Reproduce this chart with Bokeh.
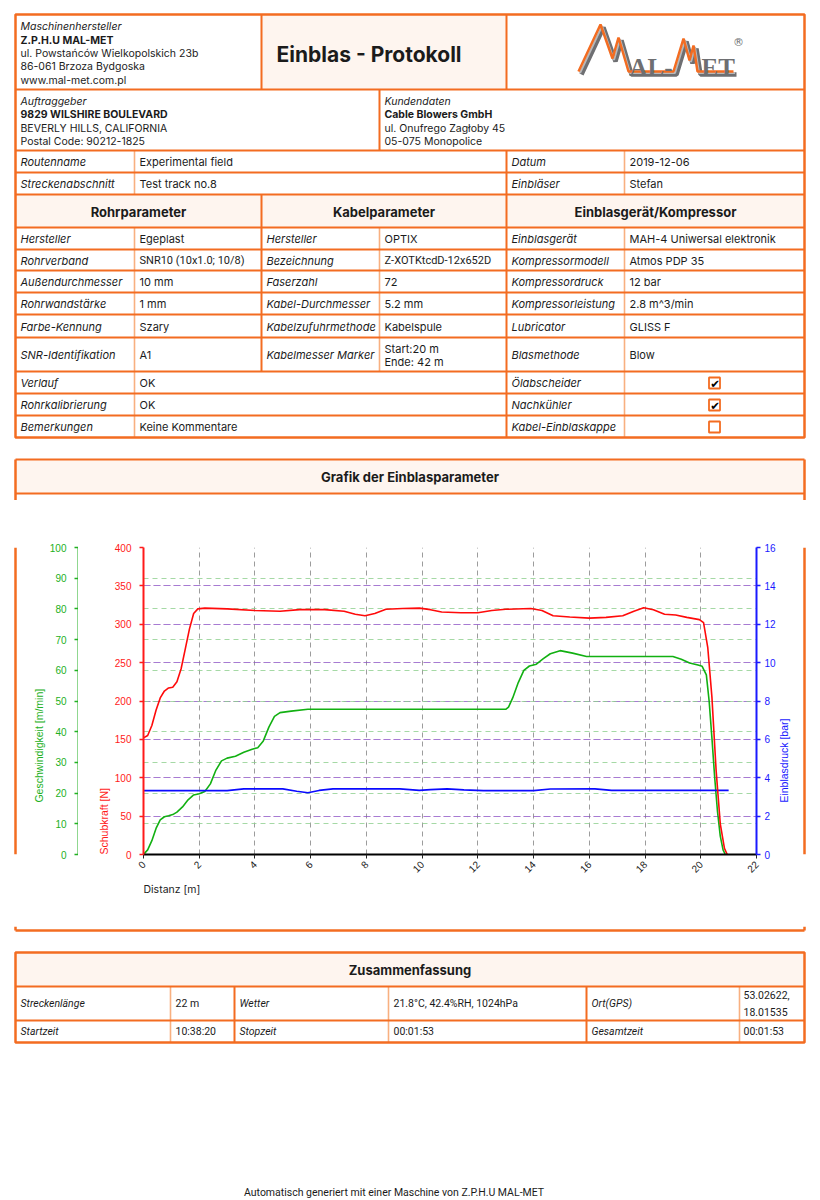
import math
from bokeh.plotting import figure
from bokeh.models import Range1d, LinearAxis, SingleIntervalTicker, Grid, Label, Title
from bokeh.layouts import column, row
from bokeh.embed import file_html
from bokeh.resources import INLINE
from bokeh.core.properties import value

# ---------------- data ----------------
maker_lines = ["Maschinenhersteller", "Z.P.H.U MAL-MET", "ul. Powstańców Wielkopolskich 23b",
               "86-061 Brzoza Bydgoska", "www.mal-met.com.pl"]
doc_title = "Einblas - Protokoll"
client_lines = ["Auftraggeber", "9829 WILSHIRE BOULEVARD", "BEVERLY HILLS, CALIFORNIA", "Postal Code: 90212-1825"]
customer_lines = ["Kundendaten", "Cable Blowers GmbH", "ul. Onufrego Zagłoby  45", "05-075 Monopolice"]
route_labels = ["Routenname", "Streckenabschnitt"]
route_values = ["Experimental field", "Test track no.8"]
date_labels = ["Datum", "Einbläser"]
date_values = ["2019-12-06", "Stefan"]
section_titles = ["Rohrparameter", "Kabelparameter", "Einblasgerät/Kompressor"]
pipe_labels = ["Hersteller", "Rohrverband", "Außendurchmesser", "Rohrwandstärke", "Farbe-Kennung", "SNR-Identifikation"]
pipe_values = ["Egeplast", "SNR10 (10x1.0; 10/8)", "10 mm", "1 mm", "Szary", "A1"]
cable_labels = ["Hersteller", "Bezeichnung", "Faserzahl", "Kabel-Durchmesser", "Kabelzufuhrmethode", "Kabelmesser Marker"]
cable_values = ["OPTIX", "Z-XOTKtcdD-12x652D", "72", "5.2 mm", "Kabelspule", ["Start:20 m", "Ende: 42 m"]]
blower_labels = ["Einblasgerät", "Kompressormodell", "Kompressordruck", "Kompressorleistung", "Lubricator", "Blasmethode"]
blower_values = ["MAH-4 Uniwersal elektronik", "Atmos PDP 35", "12 bar", "2.8 m^3/min", "GLISS F", "Blow"]
remark_labels = ["Verlauf", "Rohrkalibrierung", "Bemerkungen"]
remark_values = ["OK", "OK", "Keine Kommentare"]
option_labels = ["Ölabscheider", "Nachkühler", "Kabel-Einblaskappe"]
option_checked = [True, True, False]
chart_title = "Grafik der Einblasparameter"
summary_title = "Zusammenfassung"
summary_labels = ["Streckenlänge", "Wetter", "Ort(GPS)", "Startzeit", "Stopzeit", "Gesamtzeit"]
summary_values = ["22 m", "21.8°C, 42.4%RH, 1024hPa", ["53.02622,", "18.01535"], "10:38:20", "00:01:53", "00:01:53"]
footer_text = "Automatisch generiert mit einer Maschine von Z.P.H.U MAL-MET"
axis_titles = ["Geschwindigkeit [m/min]", "Schubkraft [N]", "Einblasdruck [bar]", "Distanz [m]"]

# chart series (distance in m)
force_dist = [0, 0.15, 0.3, 0.45, 0.6, 0.75, 0.9, 1.05, 1.2, 1.35, 1.5, 1.65, 1.8, 1.95, 2.2, 3.0, 4.0, 4.9,
              5.6, 6.5, 7.2, 7.6, 7.95, 8.3, 8.7, 9.3, 9.9, 10.3, 10.7, 11.4, 12.0, 12.5, 13.0, 13.9, 14.3,
              14.7, 15.3, 16.0, 16.6, 17.2, 17.6, 17.95, 18.3, 18.7, 19.1, 19.5, 19.95, 20.1, 20.25, 20.4,
              20.55, 20.7, 20.85, 20.95]
force_n = [152, 155, 168, 188, 204, 213, 217, 218, 225, 242, 268, 294, 314, 320, 321, 320, 318, 317,
           319, 319, 317, 313, 311, 314, 319.5, 320.5, 321, 319, 316, 315, 315, 318, 319.5, 320.5, 318,
           311, 309.5, 308, 309, 311, 317, 321.5, 319, 313, 312, 309, 306, 302, 270, 205,
           110, 40, 8, 0]
speed_dist = [0, 0.15, 0.3, 0.45, 0.6, 0.75, 0.9, 1.05, 1.2, 1.4, 1.6, 1.8, 2.0, 2.2, 2.4, 2.6, 2.8, 3.0,
              3.3, 3.6, 3.9, 4.1, 4.3, 4.5, 4.7, 4.9, 5.3, 5.9, 13.0, 13.1, 13.25, 13.45, 13.65, 13.85,
              14.1, 14.35, 14.6, 14.95, 15.4, 15.9, 19.0, 19.3, 19.6, 19.9, 20.05, 20.2, 20.3, 20.4,
              20.5, 20.6, 20.7, 20.8, 20.88]
speed_mmin = [0, 1.5, 4.5, 8.5, 11.3, 12.3, 12.6, 13, 13.8, 15.5, 17.8, 19.4, 19.8, 20.5, 23, 27.5, 30.5, 31.4,
              32, 33.3, 34.3, 34.8, 37, 41.5, 45, 46.2, 46.7, 47.3, 47.3, 48, 51, 56, 60, 61.4,
              62, 63.8, 65.4, 66.4, 65.6, 64.5, 64.5, 63.6, 62.4, 61.7, 61.3, 58.5, 50, 38,
              25, 14, 6, 1.5, 0]
pressure_dist = [0, 3.0, 3.6, 5.0, 5.5, 5.9, 6.3, 6.8, 9.2, 9.9, 10.3, 10.9, 11.5, 12.2, 14.0, 14.6, 16.2,
                 16.8, 21.0]
pressure_bar = [3.33, 3.33, 3.42, 3.42, 3.3, 3.22, 3.34, 3.42, 3.42, 3.34, 3.38, 3.42, 3.37, 3.33, 3.33,
                3.41, 3.42, 3.34, 3.34]

# ---------------- styles ----------------
ORANGE = "#F36C21"
LIGHT = "#F8B080"
PEACH = "#FEF5EF"
INK = "#1b1b1b"
FONT = "Inter"
ALT = "Roboto"
TICKFONT = "Liberation Sans"
GREEN = "#22b022"
RED = "#ff1a1a"
BLUE = "#1a1aff"


def page_fig(w, h, x0, y0):
    p = figure(width=w, height=h, x_range=Range1d(x0, x0 + w), y_range=Range1d(y0 + h, y0),
               x_axis_type=None, y_axis_type=None, min_border=0, toolbar_location=None,
               output_backend="svg", outline_line_color=None)
    p.background_fill_color = "white"
    p.border_fill_color = "white"
    return p


def txt(p, xs, ys, texts, size="11px", style="normal", align="left", color=INK, font=FONT, baseline="middle"):
    p.text(x=xs, y=ys, text=texts, text_font=value(font), text_font_size=size, text_font_style=style,
           text_align=align, text_baseline=baseline, text_color=color)


def hlines(p, ys, x0s, x1s, color, width):
    p.segment(x0=x0s, y0=ys, x1=x1s, y1=ys, line_color=color, line_width=width)


def vlines(p, xs, y0s, y1s, color, width):
    p.segment(x0=xs, y0=y0s, x1=xs, y1=y1s, line_color=color, line_width=width)


def style_axis(ax, col, standoff):
    ax.axis_line_color = col
    ax.axis_line_width = 2
    ax.major_tick_line_color = col
    ax.major_tick_line_width = 1.5
    ax.major_tick_out = 4
    ax.major_tick_in = 0
    ax.minor_tick_line_color = None
    ax.major_label_text_color = col
    ax.major_label_text_font = TICKFONT
    ax.major_label_text_font_size = "10px"
    ax.major_label_standoff = standoff


# ================= TOP FIGURE (page y 0..500) =================
W = 816
top = page_fig(W, 500, 0, 0)
top.quad(left=[261, 15, 15], right=[506, 804, 804], top=[14, 194, 459], bottom=[89, 227, 493],
         fill_color=PEACH, line_color=None)

vlines(top, [379, 134, 134, 624, 624], [227, 150, 227, 150, 227], [371, 194, 437, 194, 437], LIGHT, 1.6)
row_ys = [89, 150, 172, 194, 227, 249, 270, 292, 314, 337, 371, 393, 415]
hlines(top, row_ys, [15] * len(row_ys), [804] * len(row_ys), ORANGE, 2)
vlines(top, [261, 506, 379, 261, 506], [14, 14, 89, 194, 150], [89, 89, 150, 371, 437], ORANGE, 2)
top.quad(left=[15], right=[804], top=[14], bottom=[437], fill_color=None, line_color=ORANGE, line_width=2.5)
hlines(top, [459, 493], [15, 15], [804, 804], ORANGE, 2.2)
vlines(top, [15, 804], [459, 459], [500, 500], ORANGE, 2.5)

HS = "10.5px"
txt(top, [20], [26], [maker_lines[0]], size=HS, style="italic")
txt(top, [20], [39.5], [maker_lines[1]], size=HS, style="bold")
txt(top, [20, 20, 20], [52.5, 66, 79.5], maker_lines[2:], size=HS)
txt(top, [276], [54], [doc_title], size="21px", style="bold")

txt(top, [20], [100.5], [client_lines[0]], size=HS, style="italic")
txt(top, [20], [114], [client_lines[1]], size=HS, style="bold")
txt(top, [20, 20], [127.5, 141], client_lines[2:], size=HS)
txt(top, [384], [100.5], [customer_lines[0]], size=HS, style="italic")
txt(top, [384], [114], [customer_lines[1]], size=HS, style="bold")
txt(top, [384, 384], [127.5, 141], customer_lines[2:], size=HS)

route_y = [161.5, 183.5]
txt(top, [20, 20], route_y, route_labels, style="italic")
txt(top, [139, 139], route_y, route_values)
txt(top, [511, 511], route_y, date_labels, style="italic")
txt(top, [629, 629], route_y, date_values)

txt(top, [138, 383.5, 655], [211] * 3, section_titles, size="13px", style="bold", align="center")

param_y = [238.5, 260, 281.5, 303.5, 326, 354.5]
txt(top, [20] * 6, param_y, pipe_labels, style="italic")
txt(top, [139], [param_y[0]], [pipe_values[0]])
txt(top, [139], [param_y[1]], [pipe_values[1]], font=ALT)
txt(top, [139] * 4, param_y[2:], pipe_values[2:])
txt(top, [266] * 6, param_y, cable_labels, style="italic")
txt(top, [384], [param_y[0]], [cable_values[0]])
txt(top, [384], [param_y[1]], [cable_values[1]], font=ALT)
txt(top, [384] * 3, param_y[2:5], cable_values[2:5])
txt(top, [384, 384], [348, 361.5], cable_values[5])
txt(top, [511] * 6, param_y, blower_labels, style="italic")
txt(top, [629] * 6, param_y, blower_values)

rem_y = [382.5, 404.5, 426.5]
txt(top, [20] * 3, rem_y, remark_labels, style="italic")
txt(top, [139] * 3, rem_y, remark_values)
txt(top, [511] * 3, rem_y, option_labels, style="italic")
top.rect(x=[714] * 3, y=rem_y, width=11, height=11, fill_color="white", line_color=ORANGE, line_width=1.8)
chk_y = [y for y, c in zip(rem_y, option_checked) if c]
txt(top, [714.5] * len(chk_y), [y + 0.5 for y in chk_y], ["✔"] * len(chk_y), size="11.5px",
    align="center", color="#000000", font="DejaVu Sans")

txt(top, [409.5], [476.5], [chart_title], size="13px", style="bold", align="center")

# logo (MAL-MET)
LOGO_GRAY = "#6E6F72"
m1x = [578, 600, 612, 618, 628, 673, 683, 689, 693, 697, 733]
m1y = [71, 24, 58, 37, 71, 71, 38, 60, 45, 71, 71]
top.line(x=[v + 3 for v in m1x], y=[v + 3 for v in m1y], line_color=LOGO_GRAY, line_width=4.5)
top.line(x=[v + 1.5 for v in m1x], y=[v + 1.5 for v in m1y], line_color="#B7B8BA", line_width=2)
top.line(x=m1x, y=m1y, line_color=ORANGE, line_width=2.5)
txt(top, [629, 701], [67, 67], ["AL-", "ET"], size="25px", style="bold", color=LOGO_GRAY,
    font="Liberation Serif", baseline="alphabetic")
txt(top, [738], [42], ["®"], size="11px", color=LOGO_GRAY, font="DejaVu Sans", align="center")

# ================= CHART ROW (page y 500..926) =================
ROW_H = 426
strip_l = page_fig(46, ROW_H, 0, 500)
vlines(strip_l, [15], [500], [926], ORANGE, 2.5)
strip_l.add_layout(Label(x=38, y=854, text=axis_titles[0], angle=math.pi / 2, text_align="left",
                         text_baseline="middle", text_color=GREEN, text_font=TICKFONT,
                         text_font_size="10.5px"))

strip_r = page_fig(38, ROW_H, 778, 500)
vlines(strip_r, [804], [500], [926], ORANGE, 2.5)
strip_r.add_layout(Label(x=783.5, y=854, text=axis_titles[2], angle=math.pi / 2, text_align="left",
                         text_baseline="middle", text_color=BLUE, text_font=TICKFONT,
                         text_font_size="10.5px"))

# green speed axis figure (frame is 1px wide at page x 77)
gfig = figure(width=32, height=ROW_H, x_range=Range1d(0, 1), y_range=Range1d(0, 100), x_axis_type=None,
              min_border_left=31, min_border_right=0, min_border_top=47, min_border_bottom=72,
              toolbar_location=None, output_backend="svg", outline_line_color=None)
gfig.grid.visible = False
gfig.yaxis[0].ticker = SingleIntervalTicker(interval=10, num_minor_ticks=0)
style_axis(gfig.yaxis[0], GREEN, 8)

chart = figure(width=700, height=ROW_H, x_range=Range1d(0, 22), y_range=Range1d(0, 400),
               min_border_left=65, min_border_right=21, min_border_top=47, min_border_bottom=72,
               toolbar_location=None, output_backend="svg", outline_line_color=None)
chart.extra_y_ranges = {"speed": Range1d(0, 100), "pressure": Range1d(0, 16)}

ya = chart.yaxis[0]
ya.ticker = SingleIntervalTicker(interval=50, num_minor_ticks=0)
style_axis(ya, RED, 8)
ba = LinearAxis(y_range_name="pressure", ticker=SingleIntervalTicker(interval=2, num_minor_ticks=0))
chart.add_layout(ba, "right")
style_axis(ba, BLUE, 4)

xa = chart.xaxis[0]
xa.ticker = SingleIntervalTicker(interval=2, num_minor_ticks=0)
xa.axis_line_color = "black"
xa.axis_line_width = 2
xa.major_tick_line_color = "#222222"
xa.major_tick_out = 4
xa.major_tick_in = 0
xa.minor_tick_line_color = None
xa.major_label_orientation = math.pi / 4
xa.major_label_text_font = TICKFONT
xa.major_label_text_font_size = "10px"
xa.major_label_text_color = "#222222"
xa.major_label_standoff = 4

chart.add_layout(Title(text=axis_titles[1], align="left", text_color=RED, text_font=TICKFONT,
                       text_font_size="10.5px", text_font_style="normal", standoff=3), "left")
chart.add_layout(Title(text=axis_titles[3], align="left", text_color="#222222", text_font=FONT,
                       text_font_size="10.5px", text_font_style="normal", standoff=2), "below")

# grids
chart.xgrid.ticker = SingleIntervalTicker(interval=2)
chart.xgrid.grid_line_color = "#9c9c9c"
chart.xgrid.grid_line_dash = "5 4"
chart.ygrid.ticker = SingleIntervalTicker(interval=50)
chart.ygrid.grid_line_color = "#ff5050"
chart.ygrid.grid_line_alpha = 0.5
chart.ygrid.grid_line_dash = "7 3"
gp = Grid(dimension=1, y_range_name="pressure", ticker=SingleIntervalTicker(interval=2),
          grid_line_color="#5050ff", grid_line_alpha=0.5, grid_line_dash="7 3")
gs = Grid(dimension=1, y_range_name="speed", ticker=SingleIntervalTicker(interval=10),
          grid_line_color="#8fd08f", grid_line_alpha=0.8, grid_line_dash="5 4")
chart.add_layout(gp)
chart.add_layout(gs)

chart.line(speed_dist, speed_mmin, y_range_name="speed", line_color="#12b012", line_width=1.6)
chart.line(pressure_dist, pressure_bar, y_range_name="pressure", line_color="#0a0aff", line_width=1.6)
chart.line(force_dist, force_n, line_color="#ff0a0a", line_width=1.6)

# ================= BOTTOM FIGURE (page y 926..1198) =================
bot = page_fig(W, 272, 0, 926)
vlines(bot, [15, 804], [926, 926], [930, 930], ORANGE, 2.5)
hlines(bot, [930], [15], [804], ORANGE, 2.5)

bot.quad(left=[15], right=[804], top=[952], bottom=[986], fill_color=PEACH, line_color=None)
vlines(bot, [170, 388, 739], [986] * 3, [1042] * 3, LIGHT, 1.6)
vlines(bot, [234, 586], [986] * 2, [1042] * 2, ORANGE, 2)
hlines(bot, [986, 1020], [15, 15], [804, 804], ORANGE, 2)
bot.quad(left=[15], right=[804], top=[952], bottom=[1042], fill_color=None, line_color=ORANGE, line_width=2.5)
txt(bot, [409.5], [969.5], [summary_title], size="13px", style="bold", align="center")

SS = "10.5px"
txt(bot, [20, 239, 591], [1003] * 3, summary_labels[:3], size=SS, style="italic", font=ALT)
txt(bot, [175, 393], [1003] * 2, summary_values[:2], size=SS, font=ALT)
txt(bot, [743, 743], [994.5, 1011.5], summary_values[2], size=SS, font=ALT)
txt(bot, [20, 239, 591], [1031] * 3, summary_labels[3:], size=SS, style="italic", font=ALT)
txt(bot, [175, 393, 743], [1031] * 3, summary_values[3:], size=SS, font=ALT)

txt(bot, [393.5], [1192], [footer_text], size="10.5px", align="center", font=ALT)

layout = column(top, row(strip_l, gfig, chart, strip_r), bot)
open("out.html", "w").write(file_html(layout, INLINE))
